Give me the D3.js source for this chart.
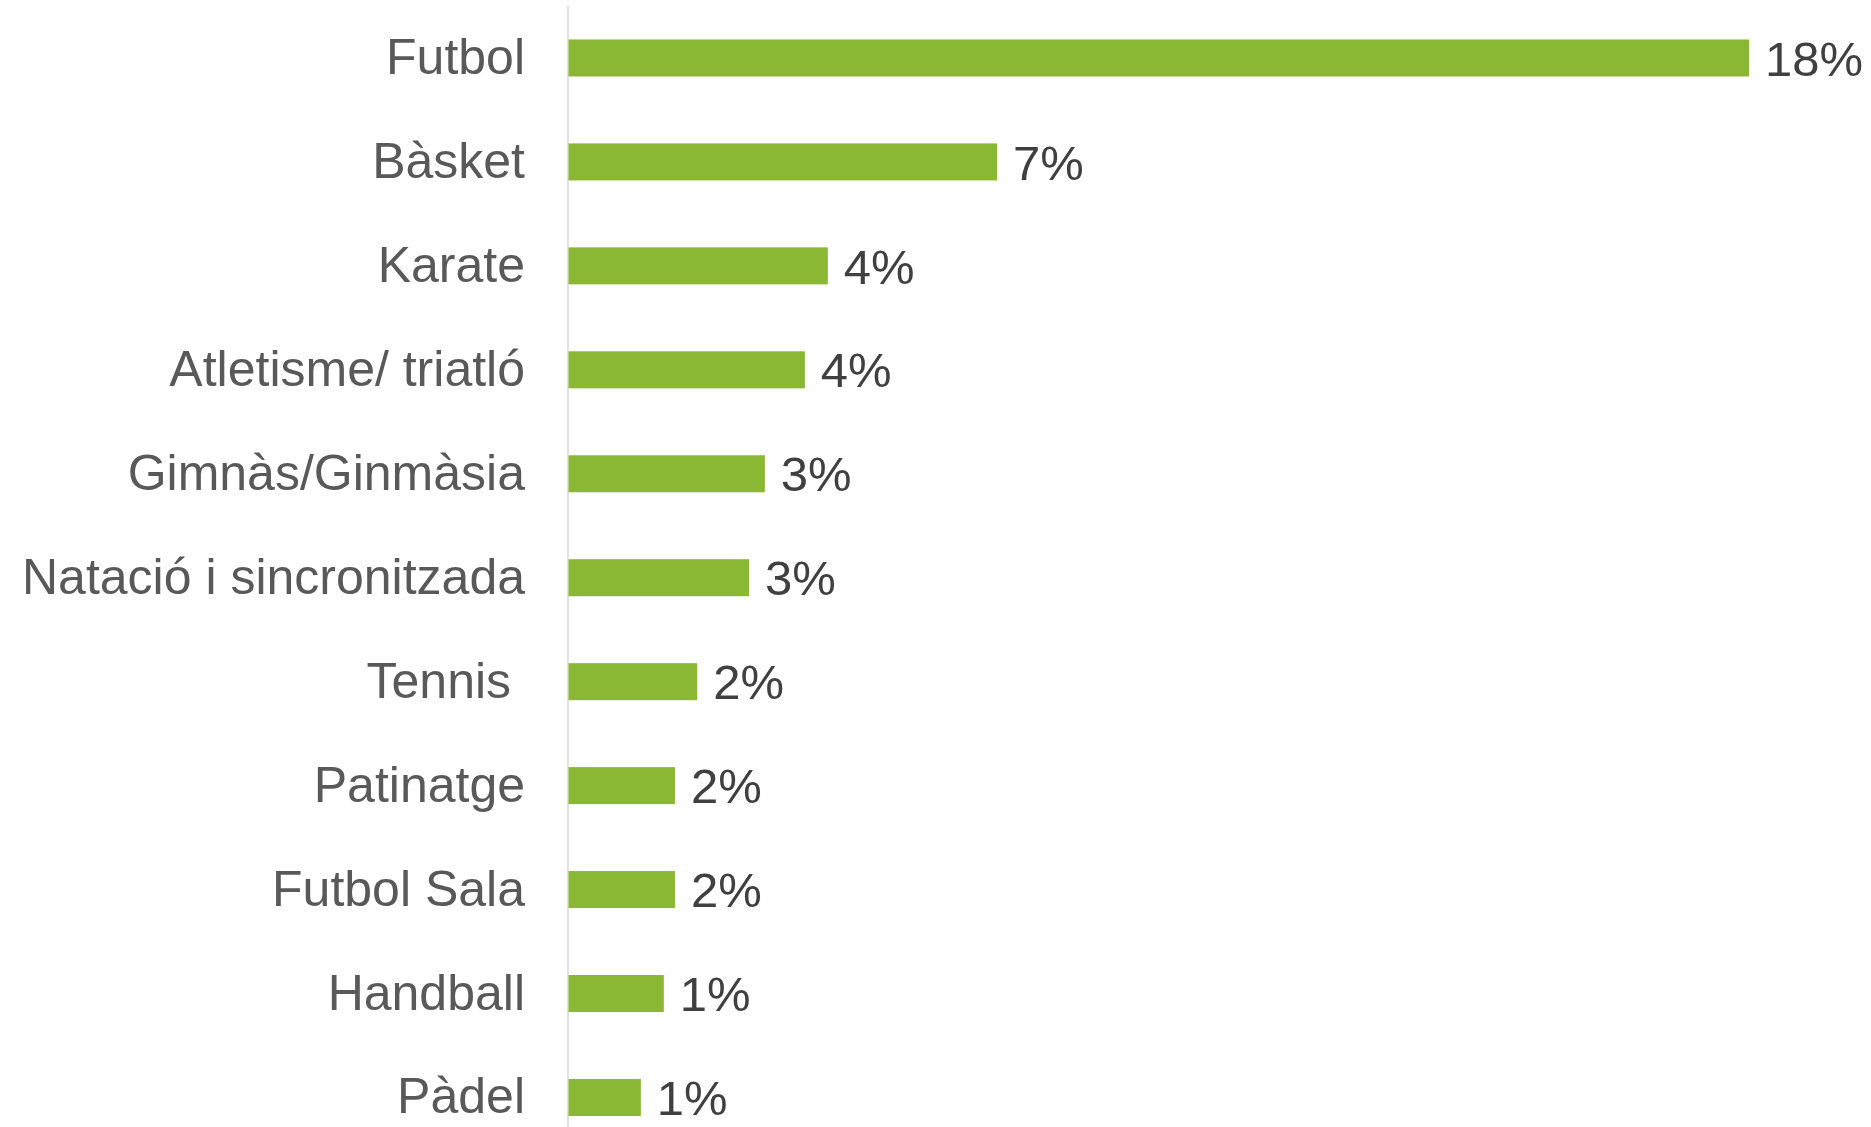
<!DOCTYPE html>
<html lang="ca">
<head>
    <meta charset="UTF-8">
    <title>Esports practicats</title>
    <script src="https://d3js.org/d3.v7.min.js"></script>
    <style>
        body {
            margin: 0;
            padding: 0;
            background: #ffffff;
            font-family: 'Liberation Sans', Arial, sans-serif;
        }
        svg { display: block; }
        .cat-label {
            fill: #595959;
            font-size: 50px;
            white-space: pre;
        }
        .val-label {
            fill: #404040;
            font-size: 49px;
        }
        .bar { fill: #8ab734; }
    </style>
</head>
<body>
    <svg width="1871" height="1127"></svg>

    <script>
        // categories (top to bottom), value in %, and the rounded label shown
        const sports = ["Futbol", "Bàsket", "Karate", "Atletisme/ triatló", "Gimnàs/Ginmàsia",
                        "Natació i sincronitzada", "Tennis ", "Patinatge", "Futbol Sala", "Handball", "Pàdel"];
        const shares = [18.0, 6.54, 3.96, 3.61, 3.0, 2.76, 1.97, 1.63, 1.63, 1.46, 1.11];
        const shareLabels = ["18%", "7%", "4%", "4%", "3%", "3%", "2%", "2%", "2%", "1%", "1%"];

        const data = sports.map((s, i) => ({ name: s, value: shares[i], label: shareLabels[i] }));

        const width = 1871, height = 1127;
        const svg = d3.select("svg");

        const x = d3.scaleLinear().domain([0, 18]).range([568, 1749]);
        const y = d3.scaleBand()
            .domain(sports)
            .range([6, 6 + 103.95 * sports.length])
            .paddingInner(0.644)
            .paddingOuter(0.322);

        // vertical axis line
        svg.append("line")
            .attr("x1", x(0)).attr("x2", x(0))
            .attr("y1", 5).attr("y2", height)
            .attr("stroke", "#d9d9d9")
            .attr("stroke-width", 1.5);

        // bars
        svg.selectAll("rect.bar")
            .data(data)
            .enter()
            .append("rect")
            .attr("class", "bar")
            .attr("x", x(0) + 0.5)
            .attr("y", d => y(d.name))
            .attr("width", d => x(d.value) - x(0) - 0.5)
            .attr("height", y.bandwidth());

        // category labels
        svg.selectAll("text.cat-label")
            .data(data)
            .enter()
            .append("text")
            .attr("class", "cat-label")
            .attr("x", 525)
            .attr("y", d => y(d.name) + y.bandwidth() / 2)
            .attr("dy", "0.32em")
            .attr("text-anchor", "end")
            .text(d => d.name);

        // value labels
        svg.selectAll("text.val-label")
            .data(data)
            .enter()
            .append("text")
            .attr("class", "val-label")
            .attr("x", d => x(d.value) + 16)
            .attr("y", d => y(d.name) + y.bandwidth() / 2)
            .attr("dy", "0.36em")
            .text(d => d.label);
    </script>
</body>
</html>
